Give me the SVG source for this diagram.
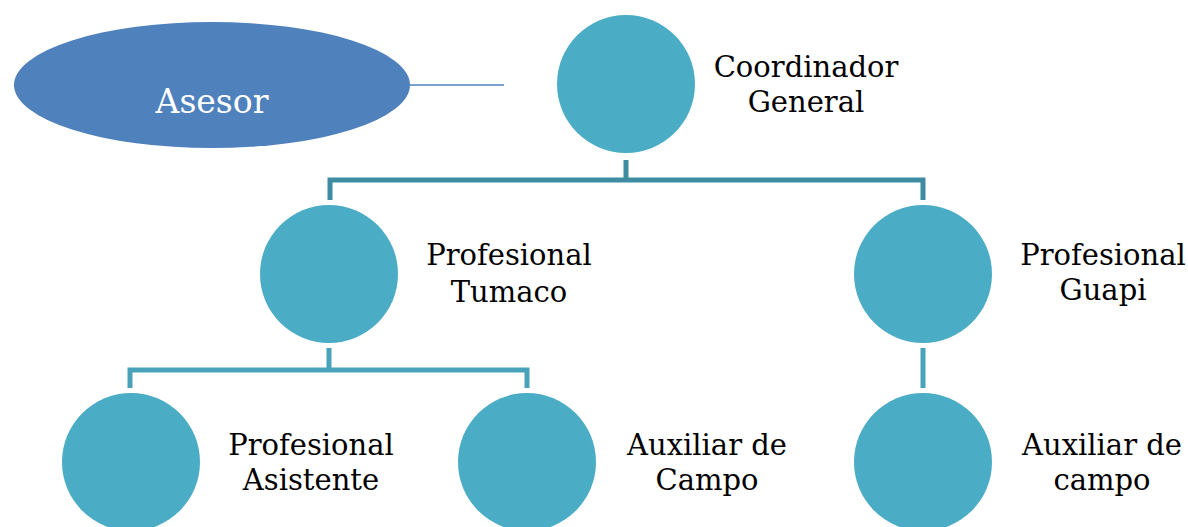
<svg xmlns="http://www.w3.org/2000/svg" width="1188" height="527" viewBox="0 0 1188 527">
<style>
.c{fill:#4BACC6}
.t{font-family:"DejaVu Serif","Liberation Serif",serif;font-size:29px;fill:#000;text-anchor:middle}
.k1{fill:none;stroke:#3E8CA1;stroke-width:5}
.k2{fill:none;stroke:#48A2BA;stroke-width:5}
</style>
<rect width="1188" height="527" fill="#fff"/>
<g id="connectors">
<line x1="410" y1="85" x2="504" y2="85" stroke="#4F81BD" stroke-width="1.5"/>
<path class="k1" d="M626 160V180M330 200V180H923V200"/>
<path class="k2" d="M329 348V370M130 388V370H527V388"/>
<path class="k2" d="M923 348V388"/>
</g>
<g id="asesor">
<ellipse cx="212" cy="85" rx="198" ry="63" fill="#4F81BD"/>
<text x="212" y="113" class="t" style="fill:#fff;font-size:33px">Asesor</text>
</g>
<g id="coordinador">
<circle class="c" cx="626" cy="84" r="69"/>
<text class="t" x="806" y="77">Coordinador</text>
<text class="t" x="806" y="112">General</text>
</g>
<g id="tumaco">
<circle class="c" cx="329" cy="274" r="69"/>
<text class="t" x="509" y="265">Profesional</text>
<text class="t" x="509" y="302">Tumaco</text>
</g>
<g id="guapi">
<circle class="c" cx="923" cy="274" r="69"/>
<text class="t" x="1103" y="265">Profesional</text>
<text class="t" x="1103" y="300">Guapi</text>
</g>
<g id="asistente">
<circle class="c" cx="131" cy="462" r="69"/>
<text class="t" x="311" y="455">Profesional</text>
<text class="t" x="311" y="490">Asistente</text>
</g>
<g id="auxiliar1">
<circle class="c" cx="527" cy="462" r="69"/>
<text class="t" x="707" y="455">Auxiliar de</text>
<text class="t" x="707" y="490">Campo</text>
</g>
<g id="auxiliar2">
<circle class="c" cx="923" cy="462" r="69"/>
<text class="t" x="1102" y="455">Auxiliar de</text>
<text class="t" x="1102" y="490">campo</text>
</g>
</svg>
